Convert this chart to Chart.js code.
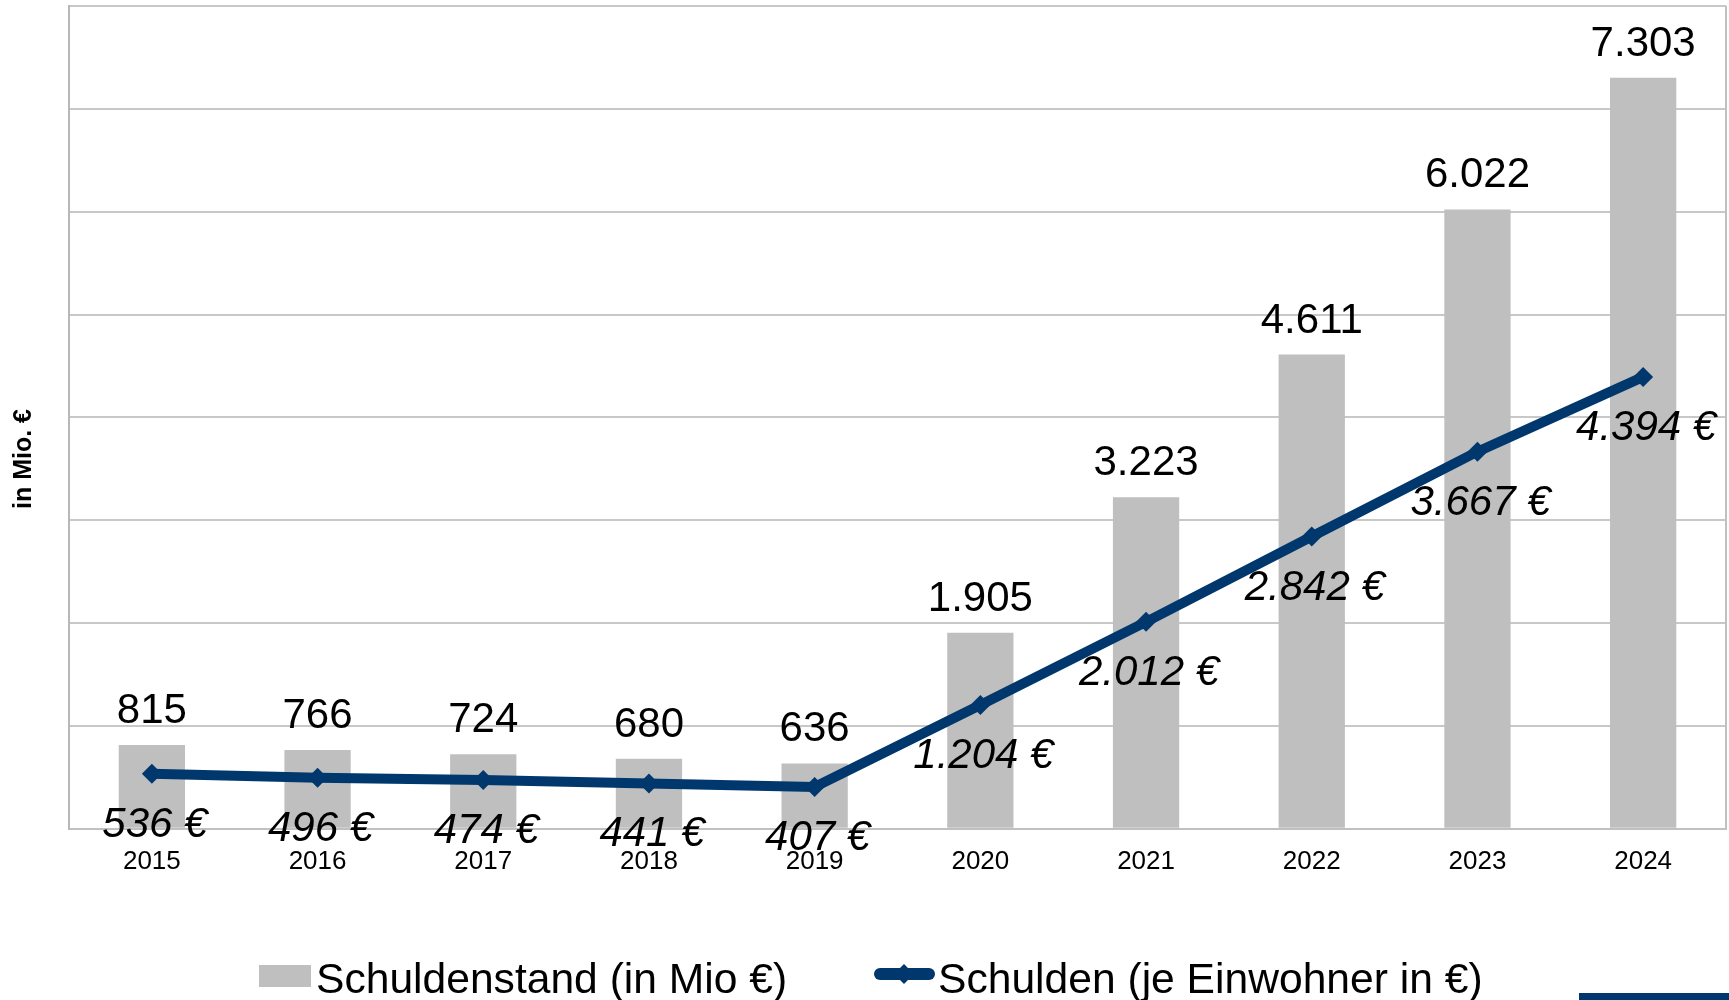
<!DOCTYPE html>
<html>
<head>
<meta charset="utf-8">
<script src="https://cdn.jsdelivr.net/npm/chart.js@4.4.1/dist/chart.umd.min.js"></script>
<style>
  html, body { margin: 0; padding: 0; background: #fff; }
  #wrap { position: relative; width: 1729px; height: 1000px; overflow: hidden; font-family: "Liberation Sans", Arial, sans-serif; }
  #debtChart { position: absolute; left: 0; top: 0; }
  .legend-item { position: absolute; top: 957px; font-size: 42.6px; line-height: 42px; color: #000; white-space: nowrap; }
  .legend-box { position: absolute; left: 259px; top: 965px; width: 52px; height: 22px; background: #bfbfbf; }
  .legend-line { position: absolute; left: 874px; top: 968px; width: 61px; height: 12px; border-radius: 6px; background: #00386e; }
  .legend-diamond { position: absolute; left: 897px; top: 967px; width: 14px; height: 14px; background: #00386e; transform: rotate(45deg); }
  .edge-bar { position: absolute; left: 1579px; top: 993px; width: 150px; height: 7px; background: #00386e; }
</style>
</head>
<body>
<div id="wrap">
  <canvas id="debtChart" width="1729" height="1000"></canvas>
  <div class="legend-box"></div>
  <div class="legend-item" id="legend-bar" style="left:316px"></div>
  <div class="legend-line"></div>
  <div class="legend-diamond"></div>
  <div class="legend-item" id="legend-line" style="left:938px"></div>
  <div class="edge-bar"></div>
</div>
<script>
// Chart Data
const years = ["2015", "2016", "2017", "2018", "2019", "2020", "2021", "2022", "2023", "2024"];
const debtTotal = [815, 766, 724, 680, 636, 1905, 3223, 4611, 6022, 7303]; // Mio €
const debtPerCapita = [536, 496, 474, 441, 407, 1204, 2012, 2842, 3667, 4394]; // € je Einwohner
const barLabel = "Schuldenstand (in Mio €)";
const lineLabel = "Schulden (je Einwohner in €)";
const axisTitle = "in Mio. €";

const FONT = '"Liberation Sans", Arial, sans-serif';

// German thousands separator
function formatDe(n) {
  return String(n).replace(/\B(?=(\d{3})+(?!\d))/g, ".");
}

// Value labels above bars / below points
const valueLabels = {
  id: "valueLabels",
  afterDatasetsDraw(chart) {
    const ctx = chart.ctx;
    ctx.save();
    ctx.fillStyle = "#000";
    ctx.textAlign = "center";
    ctx.textBaseline = "alphabetic";
    ctx.font = "42px " + FONT;
    chart.getDatasetMeta(0).data.forEach((bar, i) => {
      ctx.fillText(formatDe(debtTotal[i]), bar.x, bar.y - 22);
    });
    ctx.font = "italic 42px " + FONT;
    chart.getDatasetMeta(1).data.forEach((pt, i) => {
      ctx.fillText(formatDe(debtPerCapita[i]) + " €", pt.x + 3, pt.y + 63);
    });
    ctx.restore();
  },
};

// Right border of plot area + y axis title
const frame = {
  id: "frame",
  beforeDatasetsDraw(chart) {
    const { ctx, chartArea } = chart;
    ctx.save();
    ctx.strokeStyle = "#c0c0c0";
    ctx.lineWidth = 2;
    ctx.beginPath();
    ctx.moveTo(chartArea.right, chartArea.top);
    ctx.lineTo(chartArea.right, chartArea.bottom);
    ctx.stroke();
    ctx.restore();
  },
  afterDraw(chart) {
    const ctx = chart.ctx;
    ctx.save();
    ctx.translate(24, 459);
    ctx.rotate(-Math.PI / 2);
    ctx.fillStyle = "#000";
    ctx.font = "bold 25px " + FONT;
    ctx.textAlign = "center";
    ctx.textBaseline = "middle";
    ctx.fillText(axisTitle, 0, 0);
    ctx.restore();
  },
};

const ctx = document.getElementById("debtChart").getContext("2d");
const debtChart = new Chart(ctx, {
  type: "bar",
  data: {
    labels: years,
    datasets: [
      {
        label: barLabel,
        data: debtTotal,
        backgroundColor: "#bfbfbf",
        barPercentage: 0.4,
        categoryPercentage: 1,
        order: 1,
      },
      {
        type: "line",
        label: lineLabel,
        data: debtPerCapita,
        borderColor: "#00386e",
        backgroundColor: "#00386e",
        borderWidth: 10,
        pointStyle: "rectRot",
        pointRadius: 10,
        pointBorderWidth: 0,
        tension: 0,
        order: 0,
      },
    ],
  },
  options: {
    responsive: false,
    animation: false,
    layout: { autoPadding: false, padding: { left: 69, right: 3, top: 6, bottom: 114 } },
    plugins: {
      legend: { display: false },
      tooltip: { enabled: false },
    },
    scales: {
      x: {
        grid: { display: false },
        border: { display: true, color: "#c0c0c0", width: 2 },
        ticks: { color: "#000", font: { family: FONT, size: 26 }, padding: 9, maxRotation: 0 },
      },
      y: {
        min: 0,
        max: 8000,
        ticks: { display: false, stepSize: 1000 },
        grid: { color: "#c8c8c8", lineWidth: 2, drawTicks: false },
        border: { display: true, color: "#b8b8b8", width: 2 },
      },
    },
  },
  plugins: [frame, valueLabels],
});

document.getElementById("legend-bar").textContent = barLabel;
document.getElementById("legend-line").textContent = lineLabel;
</script>
</body>
</html>
